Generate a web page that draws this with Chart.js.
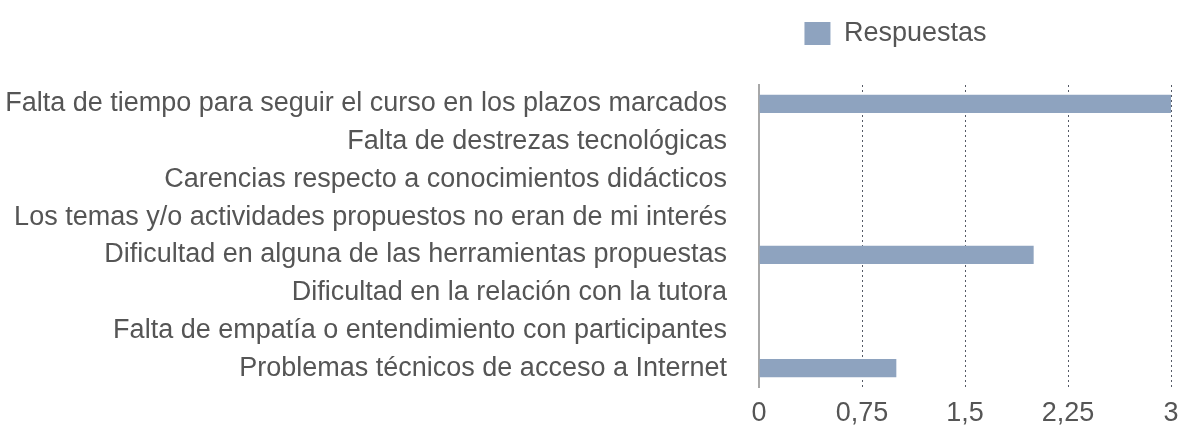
<!DOCTYPE html>
<html>
<head>
<meta charset="utf-8">
<script src="https://cdn.jsdelivr.net/npm/chart.js@4.4.1/dist/chart.umd.min.js"></script>
<style>
  html, body { margin: 0; padding: 0; background: #fff; }
  #wrap { width: 1181px; height: 427px; }
</style>
</head>
<body>
<div id="wrap"><canvas id="motivos" width="1181" height="427"></canvas></div>
<script>
const categorias = [
    'Falta de tiempo para seguir el curso en los plazos marcados',
    'Falta de destrezas tecnológicas',
    'Carencias respecto a conocimientos didácticos',
    'Los temas y/o actividades propuestos no eran de mi interés',
    'Dificultad en alguna de las herramientas propuestas',
    'Dificultad en la relación con la tutora',
    'Falta de empatía o entendimiento con participantes',
    'Problemas técnicos de acceso a Internet'
];
const respuestas = [3, 0, 0, 0, 2, 0, 0, 1];
const ticksX = [0, 0.75, 1.5, 2.25, 3];

const FUENTE = '"Liberation Sans", Arial, Helvetica, sans-serif';
const TAM = 27;
const GRIS_TEXTO = '#555555';

// separa la leyenda del área del gráfico y la desplaza a la derecha
const ajusteLeyenda = {
    id: 'ajusteLeyenda',
    beforeInit(chart) {
        const fitOriginal = chart.legend.fit;
        chart.legend.fit = function () {
            fitOriginal.bind(chart.legend)();
            this.height += 28;
        };
    },
    afterLayout(chart) {
        chart.legend.left += 305;
        chart.legend.right += 305;
    }
};

const ctx = document.getElementById('motivos').getContext('2d');

new Chart(ctx, {
    type: 'bar',
    data: {
        labels: categorias,
        datasets: [{
            label: 'Respuestas',
            data: respuestas,
            backgroundColor: '#8ea3bf',
            borderWidth: 0,
            categoryPercentage: 1,
            barPercentage: 0.48
        }]
    },
    options: {
        indexAxis: 'y',
        responsive: false,
        animation: false,
        layout: { padding: { top: 10, right: 0, bottom: 0, left: 0 } },
        plugins: {
            tooltip: { enabled: false },
            legend: {
                position: 'top',
                align: 'center',
                labels: {
                    boxWidth: 26,
                    boxHeight: 23,
                    padding: 10,
                    color: GRIS_TEXTO,
                    font: { family: FUENTE, size: TAM }
                }
            }
        },
        scales: {
            x: {
                min: 0,
                max: 3,
                afterBuildTicks: axis => {
                    axis.ticks = ticksX.map(v => ({ value: v }));
                },
                afterFit: axis => {
                    axis.height = 40;
                    axis.paddingRight = 10;
                },
                grid: {
                    color: c => c.tick && c.tick.value === 0 ? 'rgba(0,0,0,0)' : '#555a66',
                    lineWidth: 1,
                    drawTicks: false
                },
                border: { display: false, dash: [2, 3] },
                ticks: {
                    padding: 10,
                    color: GRIS_TEXTO,
                    font: { family: FUENTE, size: TAM },
                    callback: value => String(value).replace('.', ',')
                }
            },
            y: {
                afterFit: axis => {
                    axis.width = 759;
                    axis.paddingTop = 0;
                    axis.paddingBottom = 0;
                },
                grid: { display: false, drawTicks: false },
                border: { display: true, color: '#a8a8a8', width: 2 },
                ticks: {
                    padding: 32,
                    autoSkip: false,
                    color: GRIS_TEXTO,
                    font: { family: FUENTE, size: TAM }
                }
            }
        }
    },
    plugins: [ajusteLeyenda]
});
</script>
</body>
</html>
